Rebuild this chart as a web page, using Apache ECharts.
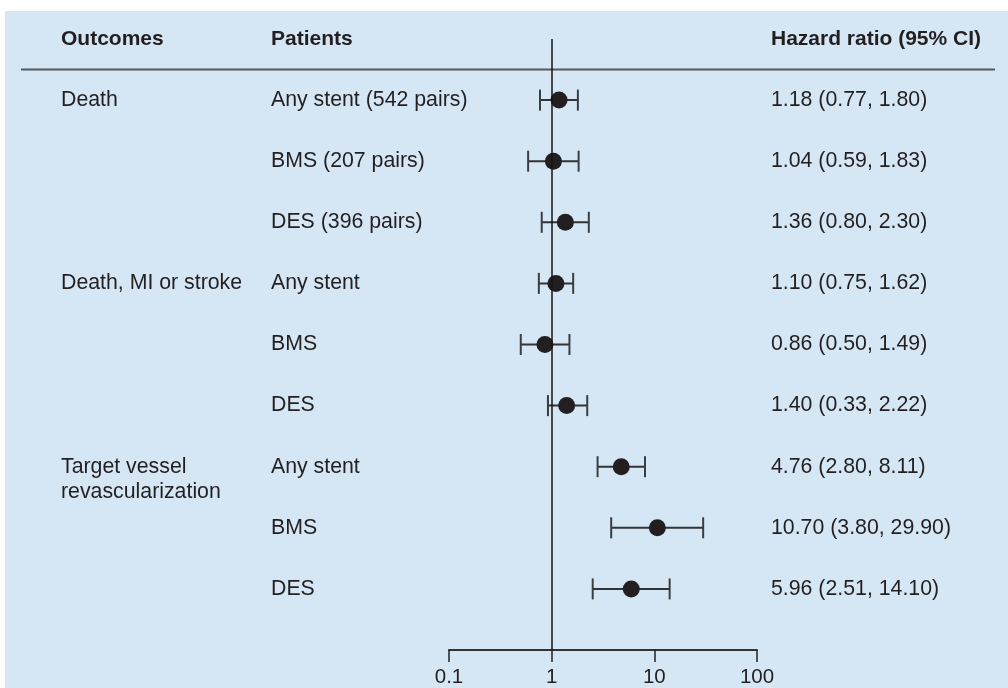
<!DOCTYPE html>
<html>
<head>
<meta charset="utf-8">
<script src="https://cdn.jsdelivr.net/npm/echarts@6/dist/echarts.min.js"></script>
<style>
  html, body { margin: 0; padding: 0; background: #ffffff; }
  #chart { width: 1008px; height: 688px; }
</style>
</head>
<body>
<div id="chart"></div>
<script>
// ---- data ----
const headers = ['Outcomes', 'Patients', 'Hazard ratio (95% CI)'];
const outcomes = ['Death', '', '', 'Death, MI or stroke', '', '', 'Target vessel\nrevascularization', '', ''];
const patients = ['Any stent (542 pairs)', 'BMS (207 pairs)', 'DES (396 pairs)', 'Any stent', 'BMS', 'DES', 'Any stent', 'BMS', 'DES'];
const hr = [1.18, 1.04, 1.36, 1.10, 0.86, 1.40, 4.76, 10.70, 5.96];
const ciLow = [0.77, 0.59, 0.80, 0.75, 0.50, 0.92, 2.80, 3.80, 2.51];
const ciHigh = [1.80, 1.83, 2.30, 1.62, 1.49, 2.22, 8.11, 29.90, 14.10];
const hrLabels = ['1.18 (0.77, 1.80)', '1.04 (0.59, 1.83)', '1.36 (0.80, 2.30)', '1.10 (0.75, 1.62)', '0.86 (0.50, 1.49)', '1.40 (0.33, 2.22)', '4.76 (2.80, 8.11)', '10.70 (3.80, 29.90)', '5.96 (2.51, 14.10)'];
const xTicks = ['0.1', '1', '10', '100'];

// ---- chart ----
const FONT = 'Liberation Sans, Arial, Helvetica, sans-serif';
const TXT = '#231f20';
const colX = [61, 271, 771];
const FS = '21.3px ';

const chart = echarts.init(document.getElementById('chart'), null, { renderer: 'canvas' });

const rows = hr.map((v, i) => [v, i, ciLow[i], ciHigh[i]]);

const option = {
  animation: false,
  backgroundColor: '#ffffff',
  graphic: [{
    type: 'rect', z: -10, silent: true,
    shape: { x: 5, y: 11, width: 1003, height: 677 },
    style: { fill: '#d5e7f5' }
  }],
  grid: { left: 449, width: 308, top: 39, height: 611 },
  xAxis: {
    type: 'log', logBase: 10, min: 0.1, max: 100, splitNumber: 3,
    axisLine: { show: true, onZero: false, lineStyle: { color: '#333333', width: 2 } },
    axisTick: { show: true, length: 12, lineStyle: { color: '#222222', width: 1.5 } },
    minorTick: { show: false },
    splitLine: { show: false },
    axisLabel: {
      fontSize: 20.5, fontFamily: FONT, color: TXT, margin: 17,
      formatter: v => xTicks[Math.round(Math.log10(v)) + 1]
    }
  },
  yAxis: { type: 'value', min: -1, max: 9, inverse: true, show: false },
  series: [
    {
      type: 'custom', name: 'header', silent: true, clip: false,
      data: [[1, -1]],
      renderItem: function (params, api) {
        const yH = api.coord([1, -1])[1];
        const yL = api.coord([1, -0.5])[1];
        const children = headers.map((t, k) => ({
          type: 'text',
          style: { text: t, x: colX[k], y: yH, verticalAlign: 'middle', align: 'left',
                   font: 'bold 21px ' + FONT, fill: TXT }
        }));
        children.push({
          type: 'line',
          shape: { x1: 21, y1: yL, x2: 995, y2: yL },
          style: { stroke: '#55585c', lineWidth: 2 }
        });
        return { type: 'group', children: children };
      }
    },
    {
      type: 'custom', name: 'hr', silent: true, clip: false,
      encode: { x: 0, y: 1 },
      data: rows,
      markLine: {
        silent: true, symbol: 'none', animation: false,
        label: { show: false },
        lineStyle: { color: '#151515', width: 1.5, type: 'solid' },
        data: [{ xAxis: 1 }]
      },
      renderItem: function (params, api) {
        const i = api.value(1);
        const c = api.coord([api.value(0), i]);
        const l = api.coord([api.value(2), i]);
        const h = api.coord([api.value(3), i]);
        const capH = 10.5;
        const children = [
          { type: 'line', shape: { x1: l[0], y1: c[1], x2: h[0], y2: c[1] },
            style: { stroke: '#333333', lineWidth: 2 } },
          { type: 'line', shape: { x1: l[0], y1: c[1] - capH, x2: l[0], y2: c[1] + capH },
            style: { stroke: '#3a3d42', lineWidth: 2 } },
          { type: 'line', shape: { x1: h[0], y1: c[1] - capH, x2: h[0], y2: c[1] + capH },
            style: { stroke: '#3a3d42', lineWidth: 2 } },
          { type: 'circle', shape: { cx: c[0], cy: c[1], r: 8.5 },
            style: { fill: '#231f20' } },
          { type: 'text', style: { text: patients[i], x: colX[1], y: c[1], verticalAlign: 'middle',
            align: 'left', font: FS + FONT, fill: TXT } },
          { type: 'text', style: { text: hrLabels[i], x: colX[2], y: c[1], verticalAlign: 'middle',
            align: 'left', font: FS + FONT, fill: TXT } }
        ];
        if (outcomes[i]) {
          children.push({ type: 'text', style: { text: outcomes[i], x: colX[0], y: c[1] - 12.5,
            verticalAlign: 'top', align: 'left', lineHeight: 25, font: FS + FONT, fill: TXT } });
        }
        return { type: 'group', children: children };
      }
    }
  ]
};

chart.setOption(option);
</script>
</body>
</html>
